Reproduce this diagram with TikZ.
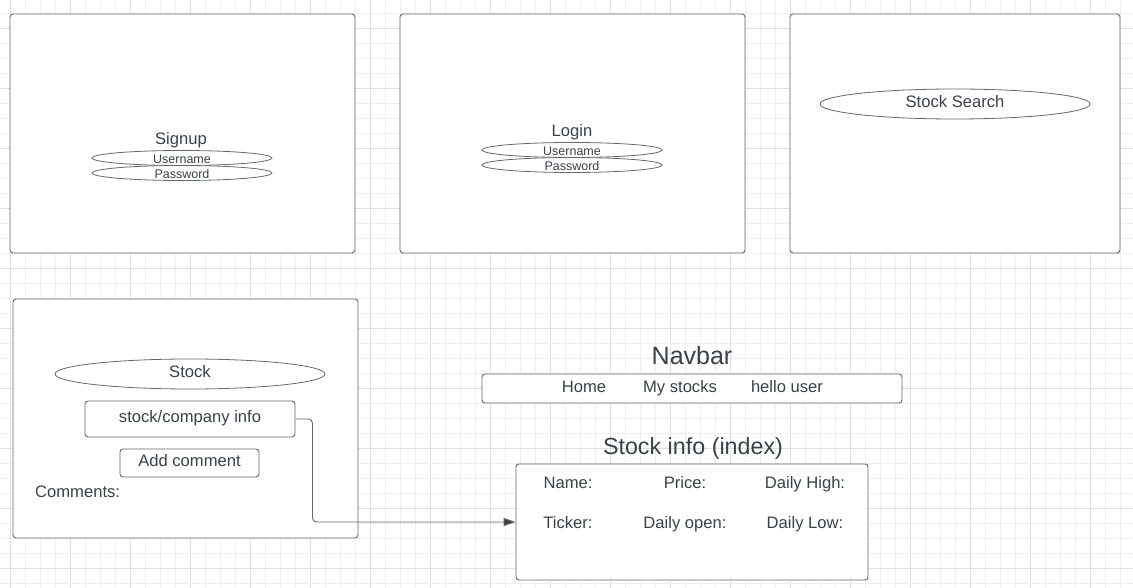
\documentclass[tikz,border=0pt]{standalone}
\usepackage{fontspec}
\setmainfont{Liberation Sans}
\usetikzlibrary{arrows.meta,shapes.geometric}
\definecolor{txt}{RGB}{58,65,74}
\definecolor{edge}{RGB}{100,104,110}
\definecolor{gminor}{RGB}{238,238,238}
\definecolor{gmajor}{RGB}{224,224,224}
\tikzset{
  frame/.style={draw=edge, line width=0.9pt, rounded corners=3pt, fill=white, inner sep=0pt},
  pill/.style={draw=edge, line width=0.8pt, ellipse, fill=white, inner sep=0pt},
  lbl/.style={text=txt, inner sep=0pt, font=\fontsize{16.6}{19}\selectfont},
  row/.style={lbl, text height=12pt, text depth=3.5pt},
  small/.style={text=txt, inner sep=0pt, font=\fontsize{12.5}{14}\selectfont},
  conn/.style={draw=edge, line width=0.9pt, rounded corners=4pt, -{Triangle[length=12pt,width=8pt,fill=txt]}},
}
\begin{document}
\begin{tikzpicture}[x=1pt,y=-1pt]
\useasboundingbox (0,0) rectangle (1133,588);
\fill[white] (0,0) rectangle (1133,588);
% grid
\foreach \k in {0,...,75} {
  \pgfmathsetmacro{\xx}{10.7+15*\k}
  \pgfmathtruncatemacro{\m}{mod(\k,4)}
  \ifnum\m=0 \draw[gmajor, line width=0.8pt] (\xx,0) -- (\xx,588);
  \else \draw[gminor, line width=0.8pt] (\xx,0) -- (\xx,588); \fi
}
\foreach \k in {0,...,39} {
  \pgfmathsetmacro{\yy}{13.3+15*\k}
  \pgfmathtruncatemacro{\m}{mod(\k,4)}
  \ifnum\m=1 \draw[gmajor, line width=0.8pt] (0,\yy) -- (1133,\yy);
  \else \draw[gminor, line width=0.8pt] (0,\yy) -- (1133,\yy); \fi
}
% top screens
\node[frame, minimum width=345pt, minimum height=239pt] (signupbox) at (182.5,133.5) {};
\node[frame, minimum width=345pt, minimum height=239pt] (loginbox) at (572.5,133.5) {};
\node[frame, minimum width=330pt, minimum height=239pt] (searchbox) at (955,133.5) {};
% signup
\node[lbl] (signup) at (181,140) {Signup};
\node[pill, minimum width=180pt, minimum height=15pt] (su_user) at (182,158) {};
\node[pill, minimum width=180pt, minimum height=15pt] (su_pass) at (182,173) {};
\node[small] at (182,159) {Username};
\node[small] at (182,174) {Password};
% login
\node[lbl] (login) at (572,132) {Login};
\node[pill, minimum width=180pt, minimum height=15pt] (li_user) at (572,150) {};
\node[pill, minimum width=180pt, minimum height=15pt] (li_pass) at (572,165) {};
\node[small] at (572,151) {Username};
\node[small] at (572,166) {Password};
% search
\node[pill, minimum width=270pt, minimum height=30pt] (search) at (955,104) {};
\node[lbl] (searchtxt) at (955,102) {Stock Search};
% stock page
\node[frame, minimum width=345pt, minimum height=239pt] (stockbox) at (185.5,418.5) {};
\node[pill, minimum width=270pt, minimum height=30pt] (stock) at (190,374) {};
\node[lbl] (stocktxt) at (190,372) {Stock};
\node[frame, minimum width=210pt, minimum height=36pt] (info) at (190,419) {};
\node[row] (infotxt) at (190,418.5) {stock/company info};
\node[frame, minimum width=139pt, minimum height=28pt] (addc) at (189.5,463) {};
\node[row] (addctxt) at (189.5,462.5) {Add comment};
\node[lbl, anchor=west] (comments) at (35,492) {Comments:};
% navbar
\node[text=txt, inner sep=0pt, font=\fontsize{25}{29}\selectfont] (navtitle) at (692,356) {Navbar};
\node[frame, minimum width=420pt, minimum height=29pt] (navbar) at (692,388.5) {};
\node[row] (home) at (584,388.5) {Home};
\node[row] (mystocks) at (680,388.5) {My stocks};
\node[row] (hello) at (787,388.5) {hello user};
% stock info
\node[text=txt, inner sep=0pt, font=\fontsize{23.3}{27}\selectfont] (sititle) at (693,448) {Stock info (index)};
\node[frame, minimum width=352pt, minimum height=116pt] (sinfo) at (692,522) {};
\node[row] (name) at (568,484.5) {Name:};
\node[row] (price) at (685,484.5) {Price:};
\node[row] (high) at (805,484.5) {Daily High:};
\node[row] (ticker) at (568,524.5) {Ticker:};
\node[row] (open) at (685,524.5) {Daily open:};
\node[row] (low) at (805,524.5) {Daily Low:};
% connector
\draw[conn] (info.east) -- ++(17,0) |- (sinfo.west);
\end{tikzpicture}
\end{document}
